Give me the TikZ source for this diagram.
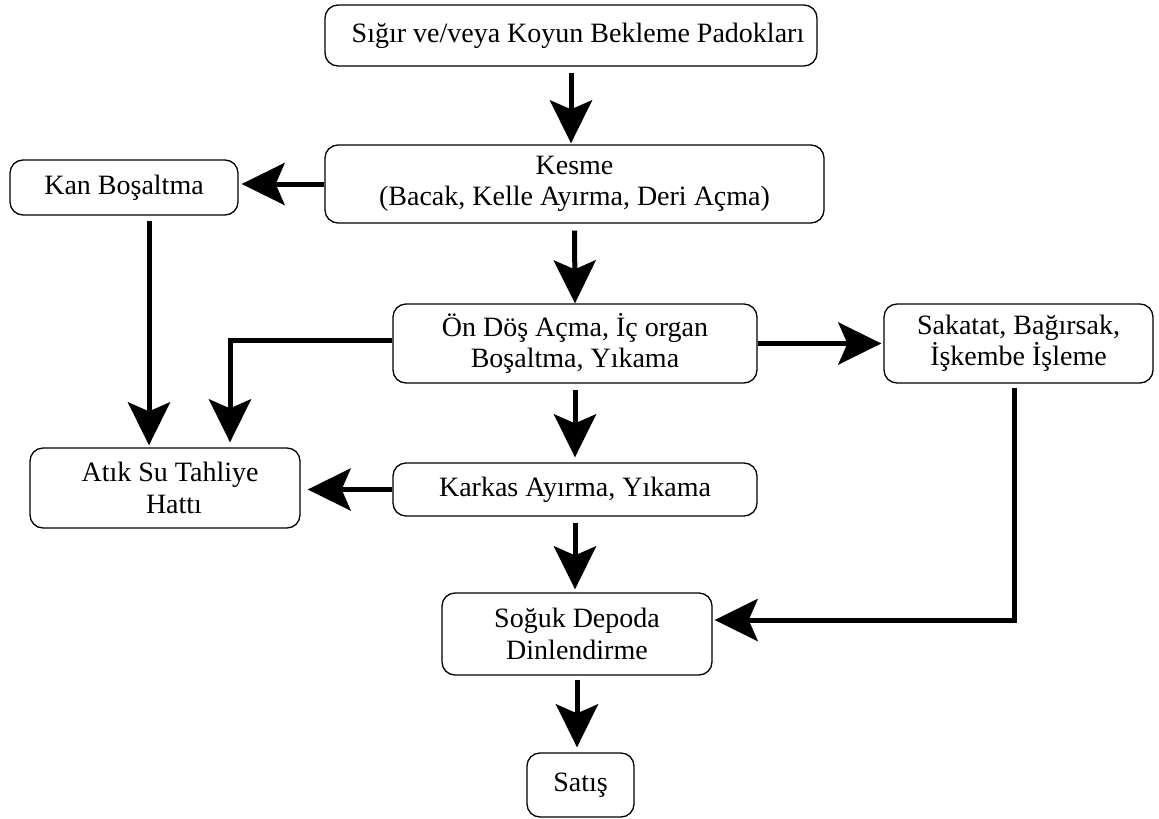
\documentclass[tikz,border=0pt]{standalone}
\usepackage{fontspec}
\setmainfont{Liberation Serif}
\usetikzlibrary{arrows.meta,calc}
\begin{document}
\tikzset{
  box/.style={draw=black, line width=1.3pt, rounded corners=13pt, align=center,
    inner sep=0pt, font=\fontsize{28}{31.5}\selectfont},
  arr/.style={line width=5pt, -{Stealth[length=43pt,width=42pt,inset=9pt]}},
}
\begin{tikzpicture}[x=1pt,y=-1pt]
\useasboundingbox (0,0) rectangle (1159,819);
\node[box, minimum width=492pt, minimum height=61pt] (b1) at (571,35.5)
  {\hspace*{14pt}Sığır ve/veya Koyun Bekleme Padokları};
\node[box, minimum width=499pt, minimum height=78pt] (kesme) at (574.5,184)
  {Kesme\\(Bacak, Kelle Ayırma, Deri Açma)};
\node[box, minimum width=228pt, minimum height=55pt] (kan) at (124,187.5)
  {Kan Boşaltma};
\node[box, minimum width=364pt, minimum height=79pt] (ondos) at (575,343.5)
  {Ön Döş Açma, İç organ\\Boşaltma, Yıkama};
\node[box, minimum width=269pt, minimum height=79pt] (sakatat) at (1018.5,343.5)
  {Sakatat, Bağırsak,\\İşkembe İşleme};
\node[box, minimum width=270pt, minimum height=80pt] (atik) at (165,488)
  {\hspace*{10pt}Atık Su Tahliye\\\hspace*{18pt}Hattı};
\node[box, minimum width=364pt, minimum height=53pt] (karkas) at (575,489.5)
  {Karkas Ayırma, Yıkama};
\node[box, minimum width=270pt, minimum height=82pt] (soguk) at (577,634)
  {Soğuk Depoda\\Dinlendirme};
\node[box, minimum width=107pt, minimum height=64pt] (satis) at (580.5,785)
  {Satış};

\draw[arr, shorten <=6pt, shorten >=1pt] (b1.south) -- (b1.south |- kesme.north);
\draw[arr, shorten >=3pt] (kesme.west) -- (kesme.west -| kan.east);
\draw[arr, shorten <=5pt, shorten >=2pt] ([xshift=25pt]kan.south) -- ([xshift=25pt]kan.south |- atik.north);
\draw[arr, shorten <=7pt] (kesme.south) -- (ondos.north);
\draw[arr, shorten >=5pt] ([yshift=3.5pt]ondos.west) -| ([xshift=65pt]atik.north);
\draw[arr, shorten >=2pt] (ondos.east) -- (sakatat.west);
\draw[arr, shorten <=6pt, shorten >=5pt] (ondos.south) -- (karkas.north);
\draw[arr, shorten >=7pt] (karkas.west) -- (karkas.west -| atik.east);
\draw[arr, shorten <=6pt, shorten >=3pt] (karkas.south) -- (karkas.south |- soguk.north);
\draw[arr, shorten <=4pt, shorten >=2pt] ([xshift=-4.5pt]sakatat.south) |- ([yshift=14pt]soguk.east);
\draw[arr, shorten <=4pt, shorten >=5pt] (soguk.south) -- (soguk.south |- satis.north);
\end{tikzpicture}
\end{document}
